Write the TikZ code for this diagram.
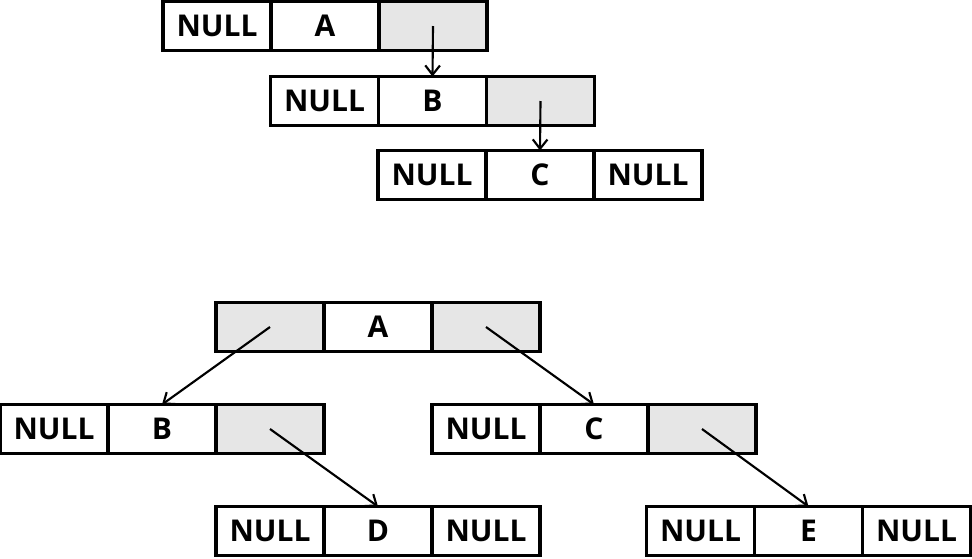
\documentclass[tikz,border=0pt]{standalone}
\usepackage{fontspec}
\setmainfont{Open Sans}
\usetikzlibrary{positioning,arrows.meta}
\definecolor{ptrgray}{RGB}{230,230,230}
\tikzset{
  cell/.style={draw, line width=2.4pt, minimum width=81pt, minimum height=36.75pt,
    inner sep=0pt, outer sep=0pt, font=\bfseries\fontsize{22.5}{26}\selectfont},
  ptr/.style={cell, fill=ptrgray},
  link/.style={draw, line width=1.6pt, -{Straight Barb[length=7pt,width=11pt]}}
}
\begin{document}
\begin{tikzpicture}[x=0.75pt,y=-0.75pt]
\useasboundingbox (0,0) rectangle (972,558);
% top: linked list
\node[cell] (a1) at (325,26) {A};
\node[cell, left=0pt of a1] (a1l) {NULL};
\node[ptr, right=0pt of a1] (a1r) {};
\node[cell] (b1) at (432.5,101) {B};
\node[cell, left=0pt of b1] (b1l) {NULL};
\node[ptr, right=0pt of b1] (b1r) {};
\node[cell] (c1) at (540,175) {C};
\node[cell, left=0pt of c1] (c1l) {NULL};
\node[cell, right=0pt of c1] (c1r) {NULL};

\path[link] (a1r.center) -- (b1.north);
\path[link] (b1r.center) -- (c1.north);

% bottom: binary tree
\node[cell] (a2) at (378,327) {A};
\node[ptr, left=0pt of a2] (a2l) {};
\node[ptr, right=0pt of a2] (a2r) {};
\node[cell] (b2) at (162,429) {B};
\node[cell, left=0pt of b2] (b2l) {NULL};
\node[ptr, right=0pt of b2] (b2r) {};
\node[cell] (c2) at (594,429) {C};
\node[cell, left=0pt of c2] (c2l) {NULL};
\node[ptr, right=0pt of c2] (c2r) {};
\node[cell] (d2) at (378,531) {D};
\node[cell, left=0pt of d2] (d2l) {NULL};
\node[cell, right=0pt of d2] (d2r) {NULL};
\node[cell] (e2) at (808.5,531) {E};
\node[cell, left=0pt of e2] (e2l) {NULL};
\node[cell, right=0pt of e2] (e2r) {NULL};

\path[link] (a2l.center) -- (b2.north);
\path[link] (a2r.center) -- (c2.north);
\path[link] (b2r.center) -- (d2.north);
\path[link] (c2r.center) -- (e2.north);
\end{tikzpicture}
\end{document}
